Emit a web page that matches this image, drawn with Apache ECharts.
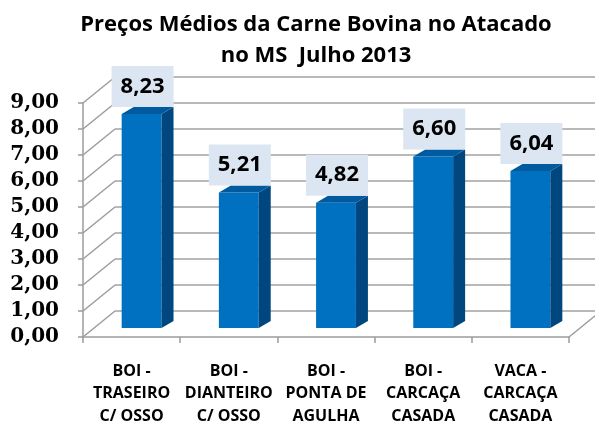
<!DOCTYPE html>
<html>
<head>
<meta charset="utf-8">
<script src="https://cdn.jsdelivr.net/npm/echarts@6/dist/echarts.min.js"></script>
<style>
html, body { margin: 0; padding: 0; background: #fff; }
#chart { width: 595px; height: 423px; }
</style>
</head>
<body>
<div id="chart"></div>
<script>
const categorias = ['BOI -\nTRASEIRO\nC/ OSSO', 'BOI -\nDIANTEIRO\nC/ OSSO', 'BOI -\nPONTA DE\nAGULHA', 'BOI -\nCARCAÇA\nCASADA', 'VACA -\nCARCAÇA\nCASADA']
const precos = [8.23, 5.21, 4.82, 6.60, 6.04]
const yTicks = [0, 1, 2, 3, 4, 5, 6, 7, 8, 9]
const titulo = 'Preços Médios da Carne Bovina no Atacado\nno MS  Julho 2013'

// profundidade da parede lateral / piso (px)
const WALL_DX = 32, WALL_DY = -26
// barras ficam um pouco para tras da borda da frente
const BAR_DX = 10, BAR_DY = -9
const BAR_DEPTH_X = 12, BAR_DEPTH_Y = -7
const GRID_COLOR = '#9c9c9c'

const fmt = v => v.toFixed(2).replace('.', ',')

let chart = echarts.init(document.getElementById('chart'))

let option = {
  animation: false,
  title: {
    text: titulo,
    left: 311,
    top: 4,
    textAlign: 'center',
    textStyle: {
      fontFamily: 'Open Sans',
      fontWeight: 'bold',
      fontSize: 22,
      lineHeight: 31,
      color: '#000'
    }
  },
  grid: { left: 83, top: 103, width: 486, height: 234, outerBoundsMode: 'none' },
  xAxis: {
    type: 'category',
    data: categorias,
    axisLine: { lineStyle: { color: GRID_COLOR, width: 1.5 } },
    axisTick: { show: true, length: 6, lineStyle: { color: GRID_COLOR, width: 1.5 } },
    axisLabel: {
      interval: 0,
      margin: 23,
      color: '#000',
      fontFamily: 'Open Sans',
      fontWeight: 'bold',
      fontSize: 16,
      lineHeight: 22.5
    }
  },
  yAxis: {
    type: 'value',
    min: 0,
    max: 9,
    interval: 1,
    axisLine: { show: true, lineStyle: { color: GRID_COLOR, width: 1.5 } },
    axisTick: { show: true, length: 5, lineStyle: { color: GRID_COLOR, width: 1.5 } },
    splitLine: { show: false },
    axisLabel: {
      formatter: fmt,
      margin: 24,
      color: '#000',
      fontFamily: 'DejaVu Serif',
      fontWeight: 'bold',
      fontSize: 20
    }
  },
  series: [
    {
      // parede lateral e piso
      name: 'paredes',
      type: 'custom',
      silent: true,
      clip: false,
      data: yTicks.map(v => [0, v]),
      encode: { x: 0, y: 1 },
      renderItem: function(params, api) {
        let y = api.coord([0, api.value(1)])[1]
        let x0 = params.coordSys.x
        let xr = x0 + params.coordSys.width
        let children = [
          {
            type: 'line',
            shape: { x1: x0, y1: y, x2: x0 + WALL_DX, y2: y + WALL_DY },
            style: { stroke: GRID_COLOR, lineWidth: 1.5 }
          }
        ]
        if (api.value(1) === 0) {
          children.push({
            type: 'line',
            shape: { x1: xr, y1: y, x2: xr + WALL_DX, y2: y + WALL_DY },
            style: { stroke: GRID_COLOR, lineWidth: 1.5 }
          })
        }
        return { type: 'group', children: children }
      }
    },
    {
      // parede do fundo: linhas de grade deslocadas em profundidade
      name: 'fundo',
      type: 'custom',
      silent: true,
      clip: false,
      data: yTicks.map(v => [0, v]),
      encode: { x: 0, y: 1 },
      renderItem: function(params, api) {
        let y = api.coord([0, api.value(1)])[1] + WALL_DY
        let x0 = params.coordSys.x + WALL_DX
        // linha horizontal desenhada como retangulo fino
        return {
          type: 'rect',
          shape: { x: x0, y: y - 0.75, width: params.coordSys.width, height: 1.5 },
          style: { fill: '#a2a2a2' }
        }
      }
    },
    {
      name: 'Preço',
      type: 'custom',
      clip: false,
      data: precos.map((v, i) => [i, v]),
      encode: { x: 0, y: 1 },
      renderItem: function(params, api) {
        let topo = api.coord([api.value(0), api.value(1)])
        let base = api.coord([api.value(0), 0])
        let bw = api.size([1, 0])[0] * 0.41
        let x1 = topo[0] + BAR_DX - bw / 2
        let x2 = x1 + bw
        let yT = topo[1] + BAR_DY
        let yB = base[1] + BAR_DY
        let dx = BAR_DEPTH_X, dy = BAR_DEPTH_Y
        return {
          type: 'group',
          children: [
            {
              type: 'rect',
              shape: { x: x1, y: yT, width: bw, height: yB - yT },
              style: { fill: '#0070c0' }
            },
            {
              type: 'polygon',
              shape: { points: [[x2, yT], [x2 + dx, yT + dy], [x2 + dx, yB + dy], [x2, yB]] },
              style: { fill: '#00477f' }
            },
            {
              type: 'polygon',
              shape: { points: [[x1, yT], [x1 + dx, yT + dy], [x2 + dx, yT + dy], [x2, yT]] },
              style: { fill: '#005a9f' }
            },
            {
              type: 'text',
              style: {
                text: fmt(api.value(1)),
                x: (x1 + x2) / 2 + 1,
                y: yT - 7,
                align: 'center',
                verticalAlign: 'bottom',
                fill: '#000',
                font: 'bold 22px "Open Sans"',
                lineHeight: 23,
                backgroundColor: '#dce6f2',
                padding: [9, 9]
              }
            }
          ]
        }
      }
    }
  ]
}

option && chart.setOption(option)
</script>
</body>
</html>
